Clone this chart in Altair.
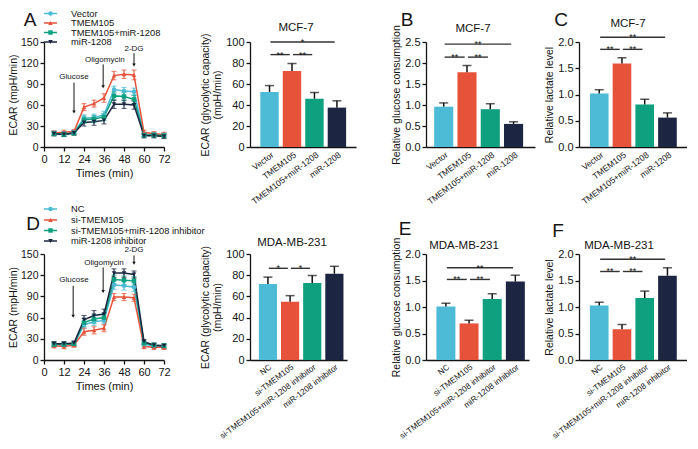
import json
import altair as alt
import pandas as pd

FONT = "Liberation Sans"
INK = "#141414"

# ---------------- data ----------------
times = [6, 12, 18, 24, 30, 36, 42, 48, 54, 60, 66, 72]

mcf_names = ["Vector", "TMEM105", "TMEM105+miR-1208", "miR-1208"]
mda_names = ["NC", "si-TMEM105", "si-TMEM105+miR-1208 inhibitor", "miR-1208 inhibitor"]
palette = ["#4dbbd6", "#e6523a", "#0fa07f", "#1c2541"]
marker_shapes = ["circle", "triangle-up", "square", "triangle-down"]

# Panel A time course (MCF-7)
mcf_vector = [20, 19, 21, 41, 42, 46, 82, 80, 79, 18, 18, 17]
mcf_tmem105 = [20, 21, 22, 57, 62, 70, 102, 104, 103, 21, 19, 18]
mcf_combo = [19, 18, 20, 39, 40, 43, 73, 72, 68, 17, 17, 16]
mcf_mir = [19, 18, 20, 35, 36, 38, 61, 61, 60, 16, 16, 15]
mcf_vector_err = [3, 3, 3, 5, 5, 5, 5, 5, 5, 3, 3, 3]
mcf_tmem105_err = [3, 3, 3, 5, 5, 6, 6, 6, 7, 3, 3, 3]
mcf_combo_err = [3, 3, 3, 5, 5, 5, 6, 6, 6, 3, 3, 3]
mcf_mir_err = [3, 3, 3, 5, 5, 5, 6, 6, 6, 3, 3, 3]

# Panel D time course (MDA-MB-231)
mda_nc = [22, 22, 22, 50, 54, 56, 106, 105, 103, 22, 20, 19]
mda_si = [20, 19, 21, 40, 42, 45, 89, 89, 88, 19, 18, 18]
mda_combo = [22, 22, 23, 53, 58, 60, 114, 113, 112, 24, 21, 20]
mda_inh = [23, 23, 24, 57, 63, 65, 123, 123, 121, 26, 21, 20]
mda_nc_err = [3, 3, 3, 5, 5, 5, 6, 6, 6, 3, 3, 3]
mda_si_err = [3, 3, 3, 5, 5, 5, 5, 5, 5, 3, 3, 3]
mda_combo_err = [3, 3, 3, 6, 6, 6, 6, 6, 6, 3, 3, 3]
mda_inh_err = [3, 3, 3, 6, 7, 7, 6, 6, 5, 3, 3, 3]

# injection annotations
inj_labels = ["Glucose", "Oligomycin", "2-DG"]
mcf_inj_text_x = [18, 36.5, 54]
mcf_inj_text_y = [100, 124, 140]
mcf_inj_arrow_x = [18, 35.5, 54]
mcf_inj_arrow_top = [92, 118, 134]
mcf_inj_arrow_tip = [50, 86, 117]
mda_inj_text_x = [18, 36, 54]
mda_inj_text_y = [113, 137, 155]
mda_inj_arrow_x = [17.5, 35.5, 54]
mda_inj_arrow_top = [105, 131, 148]
mda_inj_arrow_tip = [62, 97, 137]

# bar panels
ecar_mcf = [52.5, 72.5, 46, 37.5]
ecar_mcf_err = [6, 7, 6, 6.5]
glu_mcf = [0.96, 1.78, 0.90, 0.55]
glu_mcf_err = [0.09, 0.16, 0.13, 0.05]
lac_mcf = [1.02, 1.59, 0.81, 0.56]
lac_mcf_err = [0.07, 0.11, 0.10, 0.09]
ecar_mda = [71.6, 55, 72.6, 81.4]
ecar_mda_err = [6.6, 5.7, 7, 7]
glu_mda = [1.01, 0.69, 1.15, 1.48]
glu_mda_err = [0.06, 0.06, 0.10, 0.12]
lac_mda = [1.03, 0.58, 1.17, 1.59]
lac_mda_err = [0.06, 0.09, 0.13, 0.15]

# significance brackets: (from, to, level, label)
sig_ecar_mcf = [(0, 1, 88, "**"), (1, 2, 88, "**"), (0, 3, 100, "*")]
sig_glu_mcf = [(0, 1, 2.14, "**"), (1, 2, 2.14, "**"), (0, 3, 2.45, "**")]
sig_lac_mcf = [(0, 1, 1.86, "**"), (1, 2, 1.86, "**"), (0, 3, 2.09, "**")]
sig_ecar_mda = [(0, 1, 86.5, "*"), (1, 2, 86.5, "*")]
sig_glu_mda = [(0, 1, 1.52, "**"), (1, 2, 1.52, "**"), (0, 3, 1.74, "**")]
sig_lac_mda = [(0, 1, 1.67, "**"), (1, 2, 1.67, "**"), (0, 3, 1.90, "**")]


def text_layer(txt, x, y, size, align="center", baseline="middle"):
    return alt.Chart(pd.DataFrame({"t": [txt]})).mark_text(
        fontSize=size, font=FONT, color=INK, align=align, baseline=baseline
    ).encode(x=alt.value(x), y=alt.value(y), text="t:N")


def line_panel(names, values, errors, tx, ty, ax, atop, atip, letter, letter_xy,
               legend_px, legend_font, cell_w, plot_w, plot_h):
    recs = []
    for name, vals, errs in zip(names, values, errors):
        for t, v, e in zip(times, vals, errs):
            recs.append({"series": name, "t": t, "v": v, "e": e})
    df = pd.DataFrame(recs)
    color = alt.Color("series:N", scale=alt.Scale(domain=names, range=palette), legend=None)
    shape = alt.Shape("series:N", scale=alt.Scale(domain=names, range=marker_shapes), legend=None)
    xs = alt.Scale(domain=[0, 72], range=[0, plot_w], nice=False, zero=False)
    ys = alt.Scale(domain=[0, 150], nice=False)
    xax = alt.Axis(values=[0, 12, 24, 36, 48, 60, 72], title="Times (min)", labelFontSize=11,
                   titleFontSize=11, titlePadding=3, labelPadding=2, labelFlush=False,
                   labelOverlap=False)
    yax = alt.Axis(values=[0, 30, 60, 90, 120, 150], title="ECAR (mpH/min)", labelFontSize=10.5,
                   titleFontSize=10.5, titlePadding=2, labelPadding=2)
    X = alt.X("t:Q", scale=xs, axis=xax)

    def Y(f):
        return alt.Y(f, scale=ys, axis=yax)

    base = alt.Chart(df).transform_calculate(lo="datum.v - datum.e", hi="datum.v + datum.e")
    line = base.mark_line(strokeWidth=1.5).encode(x=X, y=Y("v:Q"), color=color)
    ebar = base.mark_rule(strokeWidth=1.1).encode(x=X, y=Y("lo:Q"), y2="hi:Q", color=color)
    cap_lo = base.mark_tick(orient="horizontal", size=5, thickness=1.1).encode(x=X, y=Y("lo:Q"), color=color)
    cap_hi = base.mark_tick(orient="horizontal", size=5, thickness=1.1).encode(x=X, y=Y("hi:Q"), color=color)
    pts = base.mark_point(filled=True, size=20, opacity=1).encode(x=X, y=Y("v:Q"), color=color, shape=shape)

    adf = pd.DataFrame({"label": inj_labels, "tx": tx, "ty": ty, "ax": ax, "top": atop, "tip": atip})
    a_txt = alt.Chart(adf).mark_text(fontSize=8, font=FONT, color=INK, baseline="middle").encode(
        x=alt.X("tx:Q", scale=xs, axis=xax), y=Y("ty:Q"), text="label:N")
    a_rule = alt.Chart(adf).mark_rule(color=INK, strokeWidth=1).encode(
        x=alt.X("ax:Q", scale=xs, axis=xax), y=Y("top:Q"), y2="tip:Q")
    a_head = alt.Chart(adf).mark_point(shape="triangle-down", filled=True, size=12, color=INK, opacity=1).encode(
        x=alt.X("ax:Q", scale=xs, axis=xax), y=Y("tip:Q"))

    # legend rows placed above the plot, expressed in the panel's own y units
    ldf = pd.DataFrame({"series": names, "px": legend_px})
    lbase = alt.Chart(ldf).transform_calculate(ly=f"150 - datum.px * 150 / {plot_h}")
    l_rule = lbase.mark_rule(strokeWidth=1.5).encode(
        x=alt.value(0), x2=alt.value(13), y=Y("ly:Q"), color=color)
    l_pt = lbase.mark_point(filled=True, size=20, opacity=1).encode(
        x=alt.value(6.5), y=Y("ly:Q"), color=color, shape=shape)
    l_txt = lbase.mark_text(align="left", baseline="middle", fontSize=legend_font, font=FONT,
                            color=INK).encode(x=alt.value(27), y=Y("ly:Q"), text="series:N")
    lab = text_layer(letter, letter_xy[0], letter_xy[1], 19)
    return alt.layer(line, ebar, cap_lo, cap_hi, pts, a_rule, a_head, a_txt,
                     l_rule, l_pt, l_txt, lab).properties(width=cell_w, height=plot_h)


def bar_panel(names, vals, errs, sigs, ytitle, yvals, yfmt, xdom, cell_w, plot_w, plot_h,
              label_font, title, title_xy, letter=None, letter_xy=None):
    df = pd.DataFrame({"group": names, "idx": [0, 1, 2, 3], "mean": vals, "err": errs})
    xs = alt.Scale(domain=xdom, range=[0, plot_w], nice=False, zero=False)
    ys = alt.Scale(domain=[yvals[0], yvals[-1]], nice=False)
    xax = alt.Axis(values=[0, 1, 2, 3], labelExpr=json.dumps(names) + "[datum.value]", labelAngle=-37,
                   labelAlign="right", labelBaseline="top", ticks=False, title=None,
                   labelFontSize=label_font, labelPadding=3, labelOverlap=False, labelFlush=False,
                   labelBound=False)
    yax = alt.Axis(values=yvals, format=yfmt, title=ytitle, labelFontSize=11, titleFontSize=10.5,
                   titlePadding=3, labelPadding=2, titleLineHeight=12)
    color = alt.Color("group:N", scale=alt.Scale(domain=names, range=palette), legend=None)

    def X(f):
        return alt.X(f, scale=xs, axis=xax)

    def Y(f):
        return alt.Y(f, scale=ys, axis=yax)

    base = alt.Chart(df).transform_calculate(
        x0="datum.idx - 0.41", x1="datum.idx + 0.41", top="datum.mean + datum.err", zero="0")
    bars = base.mark_bar().encode(x=X("x0:Q"), x2="x1:Q", y=Y("mean:Q"), y2="zero:Q", color=color)
    ebar = base.mark_rule(color=INK, strokeWidth=1.5).encode(x=X("idx:Q"), y=Y("mean:Q"), y2="top:Q")
    cap = base.mark_tick(orient="horizontal", size=9, thickness=1.5, color=INK).encode(x=X("idx:Q"), y=Y("top:Q"))

    sdf = pd.DataFrame(sigs, columns=["a", "b", "level", "label"])
    sbase = alt.Chart(sdf).transform_calculate(
        xa="datum.a + 0.04", xb="datum.b - 0.1", xm="(datum.a + datum.b - 0.06) / 2")
    s_rule = sbase.mark_rule(color="#333333", strokeWidth=1.4).encode(x=X("xa:Q"), x2="xb:Q", y=Y("level:Q"))
    s_txt = sbase.mark_text(fontSize=9, font=FONT, color=INK, baseline="alphabetic", dy=3).encode(
        x=X("xm:Q"), y=Y("level:Q"), text="label:N")

    layers = [bars, ebar, cap, s_rule, s_txt, text_layer(title, title_xy[0], title_xy[1], 11.5)]
    if letter:
        layers.append(text_layer(letter, letter_xy[0], letter_xy[1], 19))
    return alt.layer(*layers).properties(width=cell_w, height=plot_h)


H1, H2 = 105, 106
COLW = [206, 176, 153, 108]

a_line = line_panel(mcf_names, [mcf_vector, mcf_tmem105, mcf_combo, mcf_mir],
                    [mcf_vector_err, mcf_tmem105_err, mcf_combo_err, mcf_mir_err],
                    mcf_inj_text_x, mcf_inj_text_y, mcf_inj_arrow_x, mcf_inj_arrow_top, mcf_inj_arrow_tip,
                    "A", (-14, -22), [-28.5, -19, -9.5, 0], 9.4, COLW[0], 120, H1)
d_line = line_panel(mda_names, [mda_nc, mda_si, mda_combo, mda_inh],
                    [mda_nc_err, mda_si_err, mda_combo_err, mda_inh_err],
                    mda_inj_text_x, mda_inj_text_y, mda_inj_arrow_x, mda_inj_arrow_top, mda_inj_arrow_tip,
                    "D", (-11, -30), [-45, -34, -23.5, -13], 9.3, COLW[0], 120, H2)

ecar_title = ["ECAR (glycolytic capacity)", "(mpH/min)"]
a_bar = bar_panel(mcf_names, ecar_mcf, ecar_mcf_err, sig_ecar_mcf, ecar_title, [0, 20, 40, 60, 80, 100], "d",
                  [-0.87, 3.85], COLW[1], 106, H1, 8.5, "MCF-7", (46, -14))
b_bar = bar_panel(mcf_names, glu_mcf, glu_mcf_err, sig_glu_mcf, "Relative glucose consumption",
                  [0, 0.5, 1.0, 1.5, 2.0, 2.5], ".1f", [-0.76, 3.92], COLW[2], 109, H1, 8.5, "MCF-7", (47, -13),
                  "B", (-19, -22))
c_bar = bar_panel(mcf_names, lac_mcf, lac_mcf_err, sig_lac_mcf, "Relative lactate level",
                  [0, 0.5, 1.0, 1.5, 2.0], ".1f", [-0.89, 3.86], COLW[3], 108, H1, 8.5, "MCF-7", (49, -18),
                  "C", (-18, -22))
d_bar = bar_panel(mda_names, ecar_mda, ecar_mda_err, sig_ecar_mda, ecar_title, [0, 20, 40, 60, 80, 100], "d",
                  [-0.81, 3.57], COLW[1], 97, H2, 8.2, "MDA-MB-231", (42, -11))
e_bar = bar_panel(mda_names, glu_mda, glu_mda_err, sig_glu_mda, "Relative glucose consumption",
                  [0, 0.5, 1.0, 1.5, 2.0], ".1f", [-0.86, 3.59], COLW[2], 103, H2, 8.2, "MDA-MB-231", (38, -8),
                  "E", (-21, -25))
f_bar = bar_panel(mda_names, lac_mda, lac_mda_err, sig_lac_mda, "Relative lactate level",
                  [0, 0.5, 1.0, 1.5, 2.0], ".1f", [-0.89, 3.86], COLW[3], 108, H2, 8.2, "MDA-MB-231", (40, -8),
                  "F", (-21, -23))

chart = alt.concat(
    a_line, a_bar, b_bar, c_bar, d_line, d_bar, e_bar, f_bar,
    columns=4, spacing={"row": 107, "column": 0}, bounds="flush", align="each", padding=0,
).configure_view(stroke=None).configure_axis(
    domainColor=INK, domainWidth=1.3, tickColor=INK, tickWidth=1.3, tickSize=4,
    labelColor=INK, titleColor=INK, labelFont=FONT, titleFont=FONT, grid=False, titleFontWeight="normal",
).configure_text(font=FONT)

chart.save("out.html", embed_options={"renderer": "svg", "actions": False})
